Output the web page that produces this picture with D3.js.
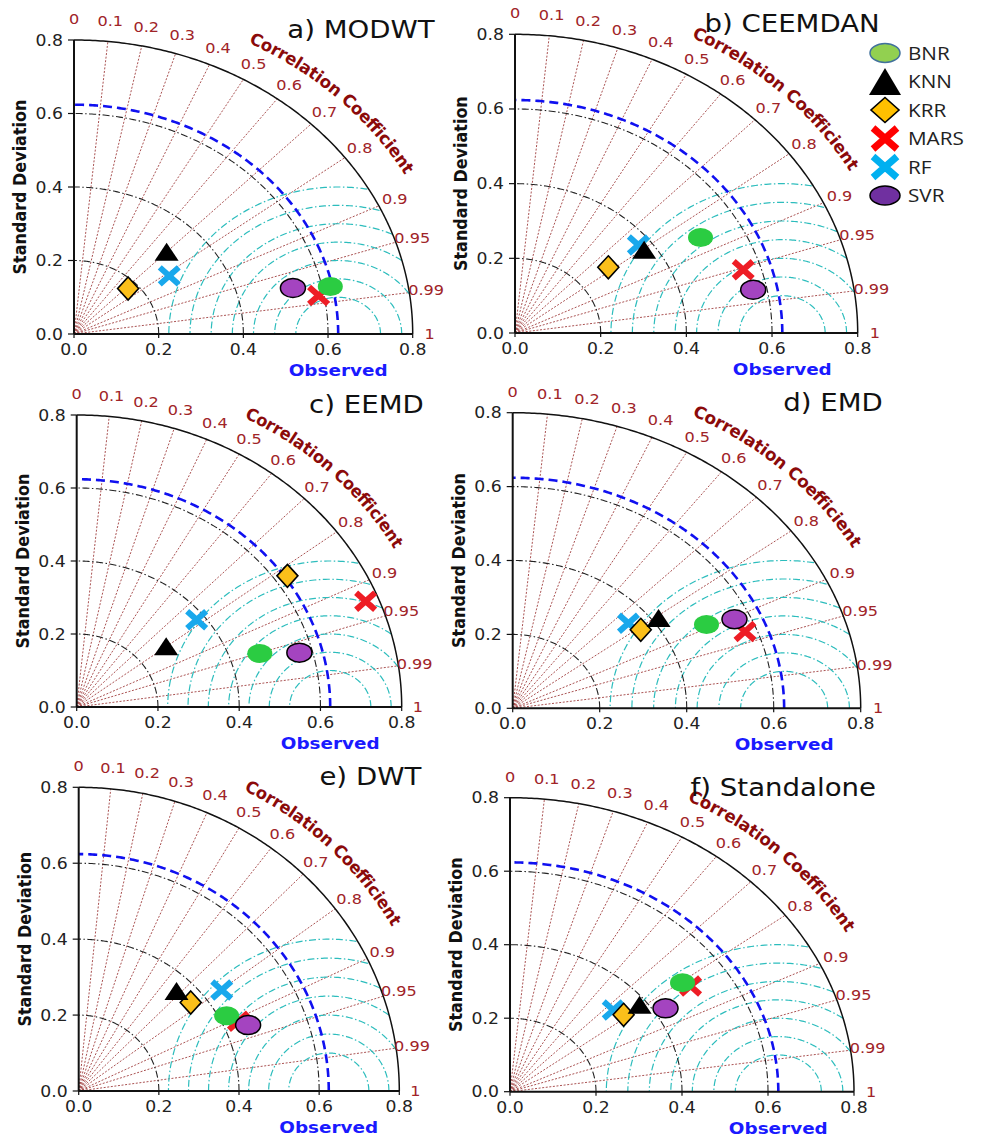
<!DOCTYPE html>
<html>
<head>
<meta charset="utf-8">
<script src="https://cdn.jsdelivr.net/npm/d3@7"></script>
<style>
  body { margin: 0; background: #fff; }
  svg { display: block; font-family: "DejaVu Sans", sans-serif; }
</style>
</head>
<body>
<div class="canvas"></div>
<script>
// ---- data ----
const models = ['BNR', 'KNN', 'KRR', 'MARS', 'RF', 'SVR'];
const panelTitles = ['a) MODWT', 'b) CEEMDAN', 'c) EEMD', 'd) EMD', 'e) DWT', 'f) Standalone'];
const refStd = 0.624;
const stdTicks = [0, 0.2, 0.4, 0.6, 0.8];
const stdArcs = [0.2, 0.4, 0.6];
const corrTicks = [0, 0.1, 0.2, 0.3, 0.4, 0.5, 0.6, 0.7, 0.8, 0.9, 0.95, 0.99, 1];
const rmsRadii = [0.1, 0.15, 0.2, 0.25, 0.3, 0.35, 0.4];

// standard deviation and correlation, in the order of models
const stdMODWT  = [0.619, 0.313, 0.178, 0.587, 0.275, 0.532];
const corrMODWT = [0.978, 0.699, 0.718, 0.984, 0.818, 0.972];
const stdCEEMDAN  = [0.503, 0.375, 0.280, 0.559, 0.372, 0.568];
const corrCEEMDAN = [0.861, 0.804, 0.778, 0.953, 0.774, 0.979];
const stdEEMD  = [0.474, 0.276, 0.631, 0.768, 0.380, 0.568];
const corrEEMD = [0.951, 0.798, 0.822, 0.926, 0.777, 0.965];
const stdEMD  = [0.500, 0.415, 0.363, 0.573, 0.352, 0.564];
const corrEMD = [0.891, 0.808, 0.811, 0.932, 0.756, 0.904];
const stdDWT  = [0.419, 0.359, 0.364, 0.439, 0.445, 0.457];
const corrDWT = [0.881, 0.680, 0.768, 0.908, 0.802, 0.925];
const stdStandalone  = [0.499, 0.383, 0.337, 0.509, 0.327, 0.427];
const corrStandalone = [0.804, 0.787, 0.784, 0.825, 0.734, 0.847];

const panelStd  = [stdMODWT, stdCEEMDAN, stdEEMD, stdEMD, stdDWT, stdStandalone];
const panelCorr = [corrMODWT, corrCEEMDAN, corrEEMD, corrEMD, corrDWT, corrStandalone];

// ---- layout ----
const W = 982, H = 1137;
const K = 1.15; // horizontal stretch of the original figure
const frames = [
  { x0: 74,    x1: 412.7, y0: 334,    y1: 40 },
  { x0: 515,   x1: 857.7, y0: 333,    y1: 34.3 },
  { x0: 76.7,  x1: 401.7, y0: 707,    y1: 415 },
  { x0: 512.7, x1: 860.7, y0: 708.3,  y1: 412.7 },
  { x0: 78.7,  x1: 399.3, y0: 1091,   y1: 787.3 },
  { x0: 510,   x1: 854,   y0: 1091.7, y1: 797.7 }
];

const plotStyle = {
  BNR:  { shape: 'ellipse',  fill: '#2bcc42', stroke: 'none' },
  KNN:  { shape: 'triangle', fill: '#000',    stroke: '#000' },
  KRR:  { shape: 'diamond',  fill: '#fbbf1a', stroke: '#000' },
  MARS: { shape: 'x',        fill: '#ee1d25', stroke: 'none' },
  RF:   { shape: 'x',        fill: '#19a8ec', stroke: 'none' },
  SVR:  { shape: 'ellipse',  fill: '#a444c0', stroke: '#000' }
};
const legendStyle = {
  BNR:  { shape: 'ellipse',  fill: '#92d050', stroke: '#41719c' },
  KNN:  { shape: 'triangle', fill: '#000',    stroke: '#000' },
  KRR:  { shape: 'diamond',  fill: '#ffc000', stroke: '#000' },
  MARS: { shape: 'x',        fill: '#ff0000', stroke: 'none' },
  RF:   { shape: 'x',        fill: '#00b0f0', stroke: 'none' },
  SVR:  { shape: 'ellipse',  fill: '#7030a0', stroke: '#000' }
};
const drawOrder = ['RF', 'KRR', 'KNN', 'MARS', 'BNR', 'SVR'];

const svg = d3.select('.canvas')
  .append('svg')
  .attr('width', W)
  .attr('height', H);

svg.append('rect').attr('width', W).attr('height', H).attr('fill', '#fff');

// stretched text helper
const txt = (g, px, py, s) => g.append('text')
  .attr('transform', `translate(${px},${py}) scale(${K},1)`)
  .text(s);

// draw one marker centred at px,py
const marker = (g, name, px, py, st, sz) => {
  const m = g.append('g').attr('transform', `translate(${px},${py})`);
  if (st.shape === 'ellipse') {
    m.append('ellipse').attr('rx', sz.rx).attr('ry', sz.ry)
      .attr('fill', st.fill).attr('stroke', st.stroke).attr('stroke-width', 1.5);
  } else if (st.shape === 'triangle') {
    m.append('path')
      .attr('d', `M0,${-sz.th / 2}L${sz.tw / 2},${sz.th / 2}L${-sz.tw / 2},${sz.th / 2}Z`)
      .attr('fill', st.fill);
  } else if (st.shape === 'diamond') {
    m.append('path')
      .attr('d', `M0,${-sz.dh}L${sz.dw},0L0,${sz.dh}L${-sz.dw},0Z`)
      .attr('fill', st.fill).attr('stroke', st.stroke).attr('stroke-width', 1.6)
      .attr('stroke-linejoin', 'miter');
  } else {
    m.append('path')
      .attr('d', `M${-sz.xw},${-sz.xh}L${sz.xw},${sz.xh}M${-sz.xw},${sz.xh}L${sz.xw},${-sz.xh}`)
      .attr('stroke', st.fill).attr('stroke-width', sz.xs).attr('fill', 'none');
  }
};

const plotSize = { rx: 12.5, ry: 9.5, tw: 24, th: 18, dw: 10.5, dh: 11.5, xw: 9.5, xh: 8.5, xs: 6 };
const legendSize = { rx: 15, ry: 9.5, tw: 32, th: 27, dw: 14, dh: 12.5, xw: 12, xh: 10.5, xs: 7 };

const corrTitle = 'Correlation Coefficient';

frames.forEach((f, i) => {
  const x = d3.scaleLinear().domain([0, 0.8]).range([f.x0, f.x1]);
  const y = d3.scaleLinear().domain([0, 0.8]).range([f.y0, f.y1]);
  const g = svg.append('g');
  const line = d3.line().x(d => x(d[0])).y(d => y(d[1])).defined(d => d[2]);

  const arc = (cx, r, a0, a1, clip) => line(d3.range(0, 201).map(k => {
    const a = a0 + (a1 - a0) * k / 200;
    const px = cx + r * Math.cos(a), py = r * Math.sin(a);
    const ok = !clip || (px * px + py * py <= 0.8 * 0.8 + 1e-9 && px >= 0);
    return [px, py, ok];
  }));

  // correlation rays
  corrTicks.filter(c => c > 0 && c < 1).forEach(c => {
    const a = Math.acos(c);
    g.append('line')
      .attr('x1', x(0)).attr('y1', y(0))
      .attr('x2', x(0.8 * Math.cos(a))).attr('y2', y(0.8 * Math.sin(a)))
      .attr('stroke', '#a0403f').attr('stroke-width', 0.9)
      .attr('stroke-dasharray', '2,1.6');
  });

  // centred RMS arcs
  rmsRadii.forEach(r => {
    g.append('path')
      .attr('d', arc(refStd, r, 0, Math.PI, true))
      .attr('fill', 'none').attr('stroke', '#2dbdbd').attr('stroke-width', 1.2)
      .attr('stroke-dasharray', '7,2.5,1.5,2.5');
  });

  // std arcs
  stdArcs.forEach(r => {
    g.append('path')
      .attr('d', arc(0, r, 0, Math.PI / 2, false))
      .attr('fill', 'none').attr('stroke', '#222').attr('stroke-width', 1.1)
      .attr('stroke-dasharray', '7,2.5,1.5,2.5');
  });

  // reference arc
  g.append('path')
    .attr('d', arc(0, refStd, 0, Math.PI / 2, false))
    .attr('fill', 'none').attr('stroke', '#1010f0').attr('stroke-width', 2.6)
    .attr('stroke-dasharray', '9,5');

  // outer arc
  g.append('path')
    .attr('d', arc(0, 0.8, 0, Math.PI / 2, false))
    .attr('fill', 'none').attr('stroke', '#111').attr('stroke-width', 1.5);

  // axes
  g.append('line').attr('x1', x(0)).attr('y1', y(0)).attr('x2', x(0.8)).attr('y2', y(0))
    .attr('stroke', '#111').attr('stroke-width', 2);
  g.append('line').attr('x1', x(0)).attr('y1', y(0)).attr('x2', x(0)).attr('y2', y(0.8))
    .attr('stroke', '#111').attr('stroke-width', 2);

  stdTicks.forEach(t => {
    g.append('line').attr('x1', x(t)).attr('x2', x(t)).attr('y1', y(0)).attr('y2', y(0) + 4)
      .attr('stroke', '#111').attr('stroke-width', 1.2);
    g.append('line').attr('x1', x(0) - 6).attr('x2', x(0)).attr('y1', y(t)).attr('y2', y(t))
      .attr('stroke', '#111').attr('stroke-width', 1.2);
    txt(g, x(t), y(0) + 21, d3.format('.1f')(t))
      .attr('text-anchor', 'middle').attr('font-size', 15).attr('fill', '#222');
    txt(g, x(0) - 11, y(t) + 5.5, d3.format('.1f')(t))
      .attr('text-anchor', 'end').attr('font-size', 15).attr('fill', '#222');
  });

  // axis titles
  g.append('text')
    .attr('transform', `translate(${x(0) - 48},${(y(0) + y(0.8)) / 2}) scale(${K},1) rotate(-90)`)
    .attr('text-anchor', 'middle').attr('font-size', 16).attr('font-weight', 'bold')
    .attr('fill', '#111').text('Standard Deviation');
  txt(g, x(refStd), y(0) + 42, 'Observed')
    .attr('text-anchor', 'middle').attr('font-size', 16).attr('font-weight', 'bold')
    .attr('fill', '#1a1aff');

  // correlation labels
  corrTicks.forEach(c => {
    const a = Math.acos(c), rr = 0.857 - 0.017 * c;
    txt(g, x(rr * Math.cos(a)), y(rr * Math.sin(a)) + 5, String(c))
      .attr('text-anchor', 'middle').attr('font-size', 14).attr('fill', '#a02428');
  });

  // curved correlation title, letter by letter along an arc
  const tPath = g.append('path')
    .attr('d', arc(0, 0.893, 62.5 * Math.PI / 180, 29 * Math.PI / 180, false))
    .attr('fill', 'none').attr('stroke', 'none');
  const pn = tPath.node();
  const tLen = pn.getTotalLength();
  const probe = g.append('text').attr('font-size', 17).attr('font-weight', 'bold').text(corrTitle);
  const full = probe.node().getComputedTextLength();
  const adv = corrTitle.split('').map((ch, k) => probe.node().getSubStringLength(k, 1));
  probe.remove();
  const sc = tLen / full;
  let off = 0;
  corrTitle.split('').forEach((ch, k) => {
    const mid = (off + adv[k] / 2) * sc;
    off += adv[k];
    if (ch === ' ') return;
    const p = pn.getPointAtLength(mid);
    const p2 = pn.getPointAtLength(Math.min(tLen, mid + 0.5));
    const p1 = pn.getPointAtLength(Math.max(0, mid - 0.5));
    const ang = Math.atan2(p2.y - p1.y, p2.x - p1.x) * 180 / Math.PI;
    g.append('text')
      .attr('transform', `translate(${p.x},${p.y}) rotate(${ang}) scale(${sc * 1.02},1)`)
      .attr('text-anchor', 'middle')
      .attr('font-size', 17).attr('font-weight', 'bold').attr('fill', '#8b0a0a')
      .text(ch);
  });

  // markers
  const std = panelStd[i], corr = panelCorr[i];
  drawOrder.forEach(name => {
    const j = models.indexOf(name);
    const a = Math.acos(corr[j]);
    marker(g, name, x(std[j] * Math.cos(a)), y(std[j] * Math.sin(a)), plotStyle[name], plotSize);
  });

  // panel title
  txt(g, x(0.8) + 22, y(0.8) - 2, panelTitles[i])
    .attr('text-anchor', 'end').attr('font-size', 24).attr('fill', '#111');
});

// legend (sits in panel b)
const lg = svg.append('g');
models.forEach((name, j) => {
  const cy = 53 + j * 28.5;
  marker(lg, name, 885, cy, legendStyle[name], legendSize);
  txt(lg, 908, cy + 6.5, name)
    .attr('font-family', '"Open Sans", sans-serif').attr('font-size', 18).attr('fill', '#222');
});
</script>
</body>
</html>
